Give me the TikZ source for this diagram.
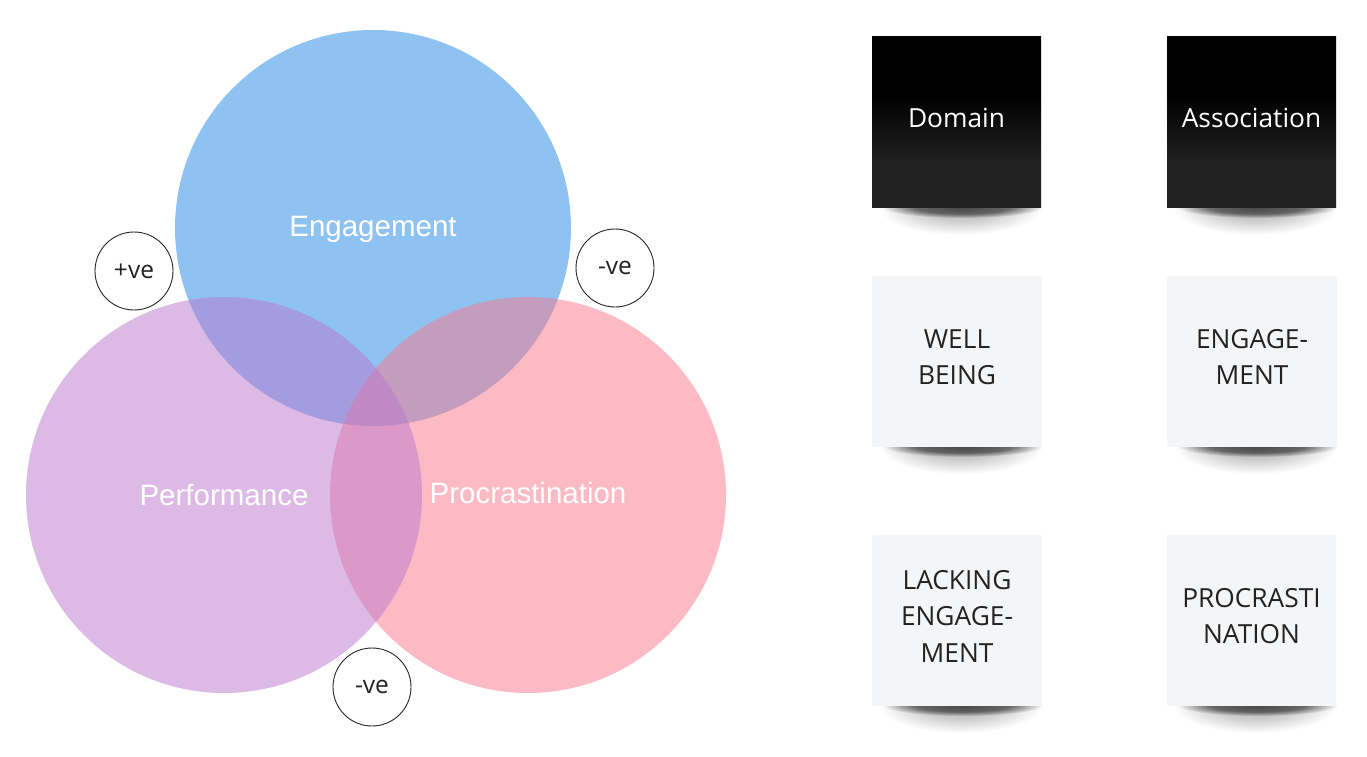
\documentclass[tikz,border=0pt]{standalone}
\usepackage{fontspec}
\usetikzlibrary{fadings}
\setmainfont{Open Sans}
\newfontfamily\arialf{Liberation Sans}
\definecolor{engc}{RGB}{30,136,229}
\definecolor{perc}{RGB}{187,119,205}
\definecolor{proc}{RGB}{251,119,141}
\definecolor{nlight}{RGB}{244,245,247}
\definecolor{ntop}{RGB}{238,239,241}
\definecolor{ngray}{RGB}{33,33,33}
\definecolor{ntext}{RGB}{34,34,34}
\colorlet{fadek}{black}
\pgfdeclareverticalshading{darkshade}{100bp}{color(0bp)=(ngray); color(38bp)=(ngray); color(58bp)=(black); color(100bp)=(black)}
\pgfdeclareverticalshading{lightshade}{100bp}{color(0bp)=(nlight); color(82bp)=(nlight); color(83bp)=(ntop); color(100bp)=(ntop)}
\pgfdeclareradialshading{shdark}{\pgfpointorigin}{color(0bp)=(fadek!40); color(15bp)=(fadek!50); color(25bp)=(fadek!100); color(50bp)=(fadek!100)}
\pgfdeclareradialshading{shsoft}{\pgfpointorigin}{color(0bp)=(fadek!70); color(12bp)=(fadek!80); color(25bp)=(fadek!100); color(50bp)=(fadek!100)}
\pgfdeclarefading{shadowdark}{\pgfuseshading{shdark}}
\pgfdeclarefading{shadowsoft}{\pgfuseshading{shsoft}}
\newcommand\notebox[5]{% name, cx, cy, style, text
  \fill[black, path fading=shadowsoft, fit fading=true] (#2+4,#3+85) ellipse [x radius=82pt, y radius=28pt];
  \fill[black, path fading=shadowdark, fit fading=true] (#2+6,#3+85) ellipse [x radius=80pt, y radius=11pt];
  \node[#4] (#1) at (#2,#3) {};
  \node[#4text] (#1t) at ([yshift=4pt]#1.center) {#5};
}
\begin{document}
\begin{tikzpicture}[x=1pt,y=-1pt,
  venn/.style={circle, minimum size=396pt, inner sep=0pt, fill opacity=0.5},
  vennlabel/.style={text=white, font=\arialf\fontsize{29.5}{34}\selectfont},
  sign/.style={circle, draw=black!85, line width=0.9pt, fill=white, minimum size=78pt, inner sep=0pt,
    text=ntext, font=\fontsize{24.5}{28}\selectfont},
  darknote/.style={rectangle, minimum width=169pt, minimum height=170pt, inner sep=0pt, shading=darkshade},
  darknotetext/.style={text=white, font=\fontsize{26.3}{36.5}\selectfont, align=center},
  lightnote/.style={rectangle, minimum width=169pt, minimum height=170pt, inner sep=0pt, shading=lightshade},
  lightnotetext/.style={text=ntext, font=\fontsize{26.3}{36.5}\selectfont, align=center}
]
\useasboundingbox[fill=white] (0,0) rectangle (1367,757);

% Venn circles
\node[venn, fill=engc] (eng) at (373,228) {};
\node[venn, fill=proc] (pro) at (528,495) {};
\node[venn, fill=perc] (per) at (224,495) {};
\node[vennlabel] (engt) at (373,229.5) {Engagement};
\node[vennlabel] (pert) at (224,495) {Performance};
\node[vennlabel] (prot) at (528,493) {Procrastination};

% sign circles
\node[sign] (s1) at (134,271) {+ve};
\node[sign] (s2) at (615,268) {-ve};
\node[sign] (s3) at (372,687) {-ve};

% sticky notes
\notebox{n1}{956.5}{122}{darknote}{Domain}
\notebox{n2}{1251.5}{122}{darknote}{Association}
\notebox{n3}{957}{361}{lightnote}{WELL\\BEING}
\notebox{n4}{1252}{361}{lightnote}{ENGAGE-\\MENT}
\notebox{n5}{957}{620}{lightnote}{LACKING\\ENGAGE-\\MENT}
\notebox{n6}{1251.5}{620}{lightnote}{PROCRASTI\\NATION}
\end{tikzpicture}
\end{document}
